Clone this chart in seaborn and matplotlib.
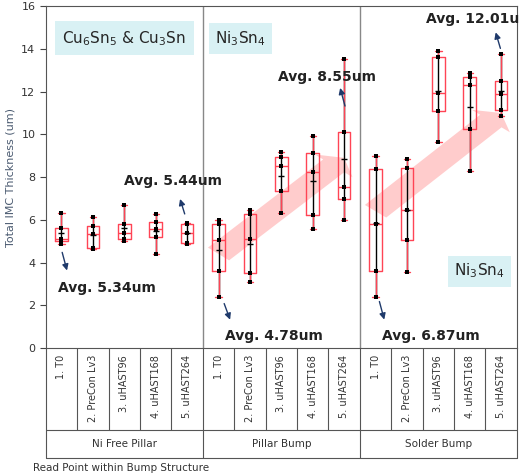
import matplotlib
matplotlib.use("Agg")
import matplotlib.pyplot as plt
import seaborn as sns
import pandas as pd
import numpy as np
from matplotlib.patches import FancyArrow

read_points = ["1. T0", "2. PreCon Lv3", "3. uHAST96", "4. uHAST168", "5. uHAST264"]
groups = ["Ni Free Pillar", "Pillar Bump", "Solder Bump"]

ni_free = [
    [4.85, 5.0, 5.1, 5.6, 6.3],
    [4.65, 4.7, 5.35, 5.7, 6.15],
    [5.0, 5.1, 5.4, 5.8, 6.7],
    [4.4, 5.2, 5.55, 5.9, 6.25],
    [4.85, 4.9, 5.4, 5.8, 5.85],
]
pillar = [
    [2.4, 3.6, 5.05, 5.8, 6.0],
    [3.1, 3.5, 5.1, 6.25, 6.45],
    [6.33, 7.36, 8.53, 8.95, 9.18],
    [5.55, 6.22, 8.25, 9.14, 9.92],
    [5.99, 6.97, 7.52, 10.12, 13.55],
]
solder = [
    [2.4, 3.62, 5.8, 8.4, 8.98],
    [3.57, 5.05, 6.46, 8.44, 8.83],
    [9.65, 11.09, 11.95, 13.63, 13.9],
    [8.3, 10.23, 12.29, 12.69, 12.88],
    [10.85, 11.13, 11.87, 12.49, 13.75],
]
avg_labels = ["Avg. 5.34um", "Avg. 5.44um", "Avg. 4.78um", "Avg. 8.55um", "Avg. 6.87um", "Avg. 12.01um"]

rows = []
for g, data in zip(groups, [ni_free, pillar, solder]):
    for rp, vals in zip(read_points, data):
        for v in vals:
            rows.append({"cat": g + "|" + rp, "val": v})
df = pd.DataFrame(rows)
order = [g + "|" + rp for g in groups for rp in read_points]

sns.set_style("white")
fig = plt.figure(figsize=(5.2, 4.76), dpi=100)
ax = fig.add_axes([0.088, 0.269, 0.906, 0.718])

ax.add_patch(FancyArrow(5.0, 4.4, 4.0, 4.5, width=0.9, head_width=1.6, head_length=0.5,
                        length_includes_head=True, color="#ff9a9a", alpha=0.5, lw=0, zorder=0))
ax.add_patch(FancyArrow(10.0, 6.4, 4.0, 4.6, width=0.9, head_width=1.6, head_length=0.5,
                        length_includes_head=True, color="#ff9a9a", alpha=0.5, lw=0, zorder=0))

stats = df.groupby("cat")["val"].agg(["min", "max"]).reindex(order)
ax.vlines(range(len(order)), stats["min"], stats["max"], color="black", lw=1, zorder=1)

sns.boxplot(data=df, x="cat", y="val", order=order, fill=False, color="#ff4455",
            width=0.4, whis=np.inf, linewidth=1, showmeans=True,
            meanprops=dict(marker="_", markeredgecolor="black", markersize=5),
            ax=ax)
sns.stripplot(data=df, x="cat", y="val", order=order, jitter=False, marker="s",
              size=3, color="black", ax=ax, zorder=3)

ax.set_ylim(0, 16)
ax.set_xlim(-0.5, 14.5)
ax.set_yticks(range(0, 17, 2))
ax.tick_params(axis="y", labelsize=8, length=4, left=True, color="#444", labelcolor="#333")
ax.set_xticks([])
ax.set_xlabel("")
ax.set_ylabel("Total IMC Thickness (um)", fontsize=8, color="#4a5a70")
for s in ax.spines.values():
    s.set_color("#555")
for xv in [4.5, 9.5]:
    ax.axvline(xv, color="#888", lw=1)

bb = dict(boxstyle="square,pad=0.4", fc="#d9f1f4", ec="none")
ax.text(2.0, 14.5, r"Cu$_6$Sn$_5$ & Cu$_3$Sn", fontsize=11, ha="center", va="center",
        bbox=dict(boxstyle="square,pad=0.5", fc="#d9f1f4", ec="none"))
ax.text(5.7, 14.5, r"Ni$_3$Sn$_4$", fontsize=11, ha="center", va="center", bbox=bb)
ax.text(13.3, 3.6, r"Ni$_3$Sn$_4$", fontsize=11, ha="center", va="center", bbox=bb)

aprops = dict(arrowstyle="-|>", color="#1f3a6b", lw=1, mutation_scale=9)
kw = dict(fontsize=10, fontweight="bold", va="center", color="#222")
ax.annotate("", xy=(0.2, 3.5), xytext=(0.0, 4.6), arrowprops=aprops)
ax.text(-0.1, 2.8, avg_labels[0], **kw)
ax.annotate("", xy=(3.75, 7.1), xytext=(3.95, 6.15), arrowprops=aprops)
ax.text(2.0, 7.8, avg_labels[1], **kw)
ax.annotate("", xy=(5.4, 1.2), xytext=(5.15, 2.2), arrowprops=aprops)
ax.text(5.2, 0.55, avg_labels[2], **kw)
ax.annotate("", xy=(8.85, 12.3), xytext=(9.05, 11.2), arrowprops=aprops)
ax.text(6.9, 12.7, avg_labels[3], **kw)
ax.annotate("", xy=(10.3, 1.2), xytext=(10.1, 2.3), arrowprops=aprops)
ax.text(10.2, 0.55, avg_labels[4], **kw)
ax.annotate("", xy=(13.8, 14.9), xytext=(14.0, 13.9), arrowprops=aprops)
ax.text(11.6, 15.4, avg_labels[5], **kw)

tr = ax.get_xaxis_transform()
y_mid = -0.24
y_bot = -0.322
for i, c in enumerate(order):
    ax.text(i, -0.02, c.split("|")[1], transform=tr, rotation=90, ha="center", va="top",
            fontsize=7, color="#333")
for xv in np.arange(-0.5, 15, 1):
    full = xv in (-0.5, 4.5, 9.5, 14.5)
    ax.plot([xv, xv], [0, y_bot if full else y_mid], transform=tr, color="#555", lw=0.8, clip_on=False)
ax.plot([-0.5, 14.5], [y_mid, y_mid], transform=tr, color="#555", lw=0.8, clip_on=False)
ax.plot([-0.5, 14.5], [y_bot, y_bot], transform=tr, color="#555", lw=0.8, clip_on=False)
for k, g in enumerate(groups):
    ax.text(2 + 5 * k, (y_mid + y_bot) / 2, g, transform=tr, ha="center", va="center", fontsize=7.5, color="#333")
ax.text(-0.9, -0.352, "Read Point within Bump Structure", transform=tr, ha="left", va="center",
        fontsize=7.5, color="#333")

fig.savefig("out.png", dpi=100)
